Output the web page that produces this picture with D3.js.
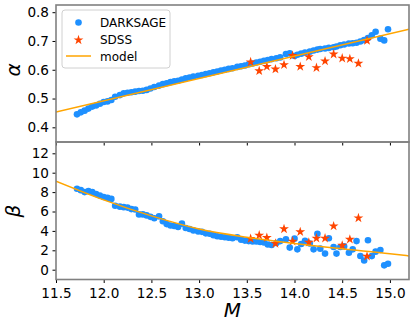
<!DOCTYPE html>
<html lang="en">
<head>
<meta charset="utf-8">
<title>alpha beta vs M</title>
<script src="https://d3js.org/d3.v7.min.js"></script>
<style>
  body { margin: 0; background: #fff; }
  text { font-family: "DejaVu Sans", sans-serif; }
</style>
</head>
<body>
<script>
// DARKSAGE halo masses and fitted parameters
var massDS = [11.72, 11.76, 11.80, 11.84, 11.88, 11.92, 11.96, 12.00, 12.04, 12.08,
  12.12, 12.17, 12.21, 12.25, 12.29, 12.33, 12.37, 12.41, 12.45, 12.49,
  12.53, 12.58, 12.62, 12.66, 12.70, 12.74, 12.78, 12.82, 12.86, 12.90,
  12.94, 12.99, 13.03, 13.07, 13.11, 13.15, 13.19, 13.23, 13.27, 13.31,
  13.35, 13.40, 13.44, 13.48, 13.52, 13.56, 13.60, 13.64, 13.68, 13.72,
  13.76, 13.81, 13.85, 13.91, 13.95, 14.00, 14.03, 14.07, 14.11, 14.16,
  14.20, 14.24, 14.27, 14.32, 14.36, 14.41, 14.44, 14.48, 14.52, 14.57,
  14.61, 14.65, 14.69, 14.73, 14.77, 14.81, 14.85, 14.90, 14.94, 14.98];
var alphaDS = [0.445, 0.452, 0.458, 0.465, 0.472, 0.476, 0.482, 0.488, 0.490, 0.495,
  0.506, 0.512, 0.518, 0.520, 0.522, 0.524, 0.526, 0.527, 0.530, 0.535,
  0.540, 0.545, 0.550, 0.553, 0.557, 0.560, 0.562, 0.566, 0.570, 0.573,
  0.576, 0.579, 0.582, 0.585, 0.588, 0.591, 0.594, 0.597, 0.600, 0.603,
  0.605, 0.610, 0.612, 0.615, 0.619, 0.622, 0.625, 0.628, 0.631, 0.634,
  0.637, 0.640, 0.643, 0.655, 0.657, 0.648, 0.652, 0.656, 0.660, 0.663,
  0.667, 0.670, 0.672, 0.674, 0.676, 0.678, 0.681, 0.685, 0.688, 0.691,
  0.692, 0.694, 0.698, 0.703, 0.710, 0.720, 0.732, 0.708, 0.702, 0.741];
var betaDS = [8.35, 8.2, 8.0, 8.1, 8.0, 7.8, 7.65, 7.5, 7.4, 7.3,
  6.6, 6.5, 6.45, 6.4, 6.25, 6.2, 5.7, 5.7, 5.6, 5.45,
  5.3, 5.5, 5.0, 4.7, 4.55, 4.5, 4.4, 4.75, 4.3, 4.2,
  4.05, 3.95, 3.9, 3.75, 3.7, 3.55, 3.45, 3.4, 3.35, 3.3,
  3.25, 3.35, 3.1, 3.0, 2.95, 2.9, 2.9, 2.85, 2.8, 2.6,
  2.55, 2.75, 2.95, 3.13, 2.28, 3.2, 2.1, 2.65, 2.98, 2.7,
  2.1, 3.7, 2.17, 1.66, 3.25, 2.34, 1.66, 2.34, 2.4, 1.75,
  2.1, 2.95, 1.41, 0.95, 3.03, 1.4, 1.86, 2.03, 0.45, 0.61];

// SDSS
var massSDSS = [13.54, 13.63, 13.71, 13.80, 13.89, 13.98, 14.06, 14.15, 14.23, 14.32,
  14.41, 14.50, 14.58, 14.67, 14.76];
var alphaSDSS = [0.627, 0.596, 0.611, 0.602, 0.617, 0.649, 0.611, 0.645, 0.607, 0.630,
  0.654, 0.640, 0.638, 0.622, 0.701];
var betaSDSS = [3.2, 3.55, 3.3, 2.7, 4.2, 2.93, 3.9, 2.82, 3.24, 3.24,
  4.5, 2.5, 3.13, 5.33, 1.38];

// model curves
var massModelA = [11.5, 15.2];
var alphaModel = [0.453, 0.741];
var massModelB = [11.5, 12.0, 12.5, 13.0, 13.5, 14.0, 14.5, 15.0, 15.2];
var betaModel = [9.13, 7.2, 5.55, 4.2, 3.35, 2.7, 2.15, 1.65, 1.42];

var xTicks = [11.5, 12.0, 12.5, 13.0, 13.5, 14.0, 14.5, 15.0];
var alphaTicks = [0.4, 0.5, 0.6, 0.7, 0.8];
var betaTicks = [0, 2, 4, 6, 8, 10, 12];

var W = 415, H = 327;
var left = 56, right = 409;
var topA = 5, botA = 142, topB = 142, botB = 279.5;

var svg = d3.select("body").append("svg")
    .attr("width", W).attr("height", H);

var x = d3.scaleLinear().domain([11.5, 15.2]).range([left, right]);
var yA = d3.scaleLinear().domain([0.349, 0.825]).range([botA, topA]);
var yB = d3.scaleLinear().domain([-1.01, 13.165]).range([botB, topB]);

var blue = "#1e90ff", red = "#ff4500", orange = "#ffa500";
var starSize = 30;

function panel(y, top, bot, ticks, fmt, mDS, vDS, mS, vS, mM, vM, curve, clipId) {
    svg.append("clipPath").attr("id", clipId)
        .append("rect").attr("x", left).attr("y", top)
        .attr("width", right - left).attr("height", bot - top);

    var g = svg.append("g").attr("clip-path", "url(#" + clipId + ")");

    var line = d3.line()
        .x(function (d) { return x(d[0]); })
        .y(function (d) { return y(d[1]); })
        .curve(curve);

    g.selectAll("circle")
        .data(d3.zip(mDS, vDS))
        .join("circle")
        .attr("cx", function (d) { return x(d[0]); })
        .attr("cy", function (d) { return y(d[1]); })
        .attr("r", 3.3)
        .attr("fill", blue);

    g.selectAll("path.star")
        .data(d3.zip(mS, vS))
        .join("path")
        .attr("class", "star")
        .attr("d", d3.symbol().type(d3.symbolStar).size(starSize))
        .attr("transform", function (d) { return "translate(" + x(d[0]) + "," + y(d[1]) + ")"; })
        .attr("fill", red);

    g.append("path")
        .datum(d3.zip(mM, vM))
        .attr("d", line)
        .attr("fill", "none")
        .attr("stroke", orange)
        .attr("stroke-width", 1.5);

    // y axis
    var ya = svg.append("g")
        .attr("transform", "translate(" + left + ",0)")
        .call(d3.axisLeft(y).tickValues(ticks).tickFormat(fmt).tickSize(3.5).tickPadding(3.5));
    ya.select(".domain").remove();
    ya.selectAll("text").attr("font-size", 13.6).attr("fill", "#000");

    // x ticks
    var xa = svg.append("g")
        .attr("transform", "translate(0," + bot + ")")
        .call(d3.axisBottom(x).tickValues(xTicks).tickFormat(d3.format(".1f")).tickSize(3.5).tickPadding(5));
    xa.select(".domain").remove();
    xa.selectAll("text").attr("font-size", 13.6).attr("fill", "#000");
    return xa;
}

var xaA = panel(yA, topA, botA, alphaTicks, d3.format(".1f"),
    massDS, alphaDS, massSDSS, alphaSDSS, massModelA, alphaModel, d3.curveLinear, "clipA");
xaA.selectAll("text").remove();

panel(yB, topB, botB, betaTicks, d3.format("d"),
    massDS, betaDS, massSDSS, betaSDSS, massModelB, betaModel, d3.curveMonotoneX, "clipB");

// frames
[[topA, botA], [topB, botB]].forEach(function (p) {
    svg.append("rect")
        .attr("x", left).attr("y", p[0])
        .attr("width", right - left).attr("height", p[1] - p[0])
        .attr("fill", "none")
        .attr("stroke", "#808080")
        .attr("stroke-width", 1.6);
});

// axis labels
svg.append("text")
    .attr("transform", "translate(20,70) rotate(-90)")
    .attr("text-anchor", "middle")
    .attr("font-size", 20)
    .attr("font-style", "italic")
    .text("α");
svg.append("text")
    .attr("transform", "translate(20,211) rotate(-90)")
    .attr("text-anchor", "middle")
    .attr("font-size", 20)
    .attr("font-style", "italic")
    .text("β");
svg.append("text")
    .attr("x", (left + right) / 2).attr("y", 317)
    .attr("text-anchor", "middle")
    .attr("font-size", 20)
    .attr("font-style", "italic")
    .text("M");

// legend
var lg = svg.append("g");
lg.append("rect")
    .attr("x", 62).attr("y", 10).attr("width", 108).attr("height", 58)
    .attr("rx", 3)
    .attr("fill", "#fff").attr("fill-opacity", 0.8)
    .attr("stroke", "#d0d0d0").attr("stroke-width", 1);
lg.append("circle").attr("cx", 78.5).attr("cy", 22.5).attr("r", 3.3).attr("fill", blue);
lg.append("path")
    .attr("d", d3.symbol().type(d3.symbolStar).size(starSize))
    .attr("transform", "translate(78.5,40)")
    .attr("fill", red);
lg.append("line")
    .attr("x1", 66).attr("x2", 91).attr("y1", 56).attr("y2", 56)
    .attr("stroke", orange).attr("stroke-width", 1.5);
var labels = ["DARKSAGE", "SDSS", "model"];
labels.forEach(function (t, i) {
    lg.append("text")
        .attr("x", 100).attr("y", 22.5 + i * 17)
        .attr("dy", "0.35em")
        .attr("font-size", 12)
        .text(t);
});
</script>
</body>
</html>
